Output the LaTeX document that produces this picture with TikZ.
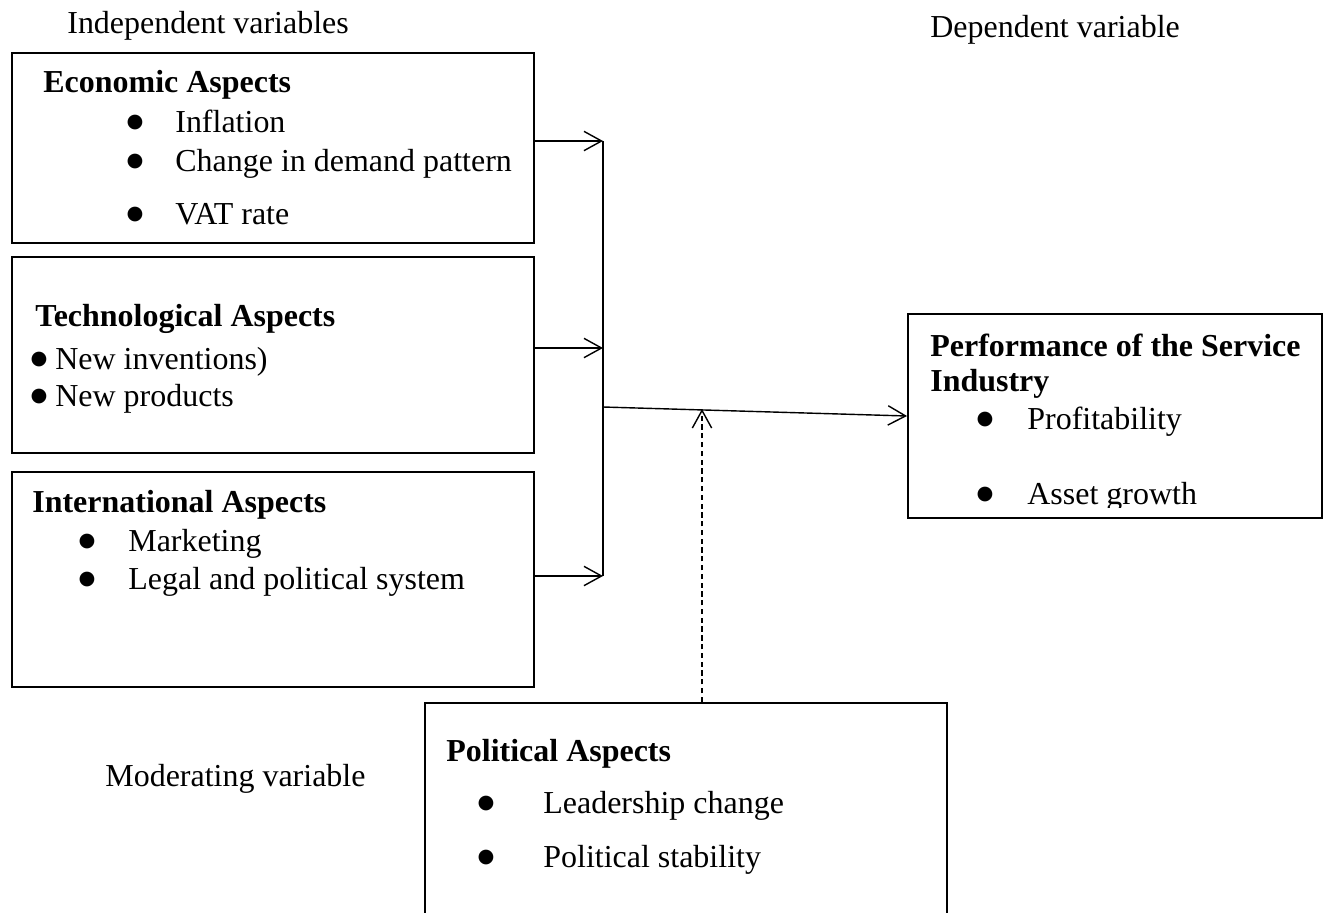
\documentclass[tikz,border=0pt]{standalone}
\usepackage{fontspec}
\setmainfont{Liberation Serif}
\newfontfamily\symfont{DejaVu Sans}
\usetikzlibrary{arrows.meta,fit,positioning}

\newcommand{\bigbul}{\raisebox{2.5pt}{\symfont\fontsize{11}{11}\selectfont ●}}

\begin{document}
\begin{tikzpicture}[
  x=0.02cm, y=-0.02cm,
  font=\fontsize{18.2}{22}\selectfont,
  box/.style={draw, line width=1.1pt, inner sep=0pt},
  head/.style={anchor=base west, inner sep=0pt, font=\fontsize{18.2}{22}\selectfont\bfseries},
  item/.style={anchor=base west, inner sep=0pt},
  bul/.style={anchor=base, inner sep=0pt},
  link/.style={line width=0.8pt, -{Straight Barb[length=10pt,width=11pt]}}
]
\useasboundingbox (0,0) rectangle (1329,913);
\clip (0,0) rectangle (1329,913);

% variable labels
\node[item] (indep) at (67,33) {Independent variables};
\node[item] (dep) at (930,37) {Dependent variable};
\node[item] (moder) at (105,786) {Moderating variable};

% boxes
\node[box, fit={(12,53) (534,243)}] (econ) {};
\node[box, fit={(12,257) (534,453)}] (tech) {};
\node[box, fit={(12,472) (534,687)}] (intl) {};
\node[box, fit={(908,314) (1322,518)}] (perf) {};
\node[box, fit={(425,703) (947,940)}] (pol) {};

% economic
\node[head] (econhead) at (43,92) {Economic Aspects};
\node[bul] (econb1) at (135,132) {\bigbul};
\node[item] (econ1) at (175,132) {Inflation};
\node[bul] (econb2) at (135,171) {\bigbul};
\node[item] (econ2) at (175,171) {Change in demand pattern};
\node[bul] (econb3) at (135,224) {\bigbul};
\node[item] (econ3) at (175,224) {VAT rate};

% technological
\node[head] (techhead) at (35,326) {Technological Aspects};
\node[bul] (techb1) at (39,369) {\bigbul};
\node[item] (tech1) at (55,369) {New inventions)};
\node[bul] (techb2) at (39,406) {\bigbul};
\node[item] (tech2) at (55,406) {New products};

% international
\node[head] (intlhead) at (32,512) {International Aspects};
\node[bul] (intlb1) at (87,551) {\bigbul};
\node[item] (intl1) at (128,551) {Marketing};
\node[bul] (intlb2) at (87,589) {\bigbul};
\node[item] (intl2) at (128,589) {Legal and political system};

% performance
\node[head] (perfhead) at (930,356) {Performance of the Service};
\node[head] (perfhead2) at (930,391) {Industry};
\node[bul] (perfb1) at (985,429) {\bigbul};
\node[item] (perf1) at (1027,429) {Profitability};
\begin{scope}
\clip (908,314) rectangle (1322,507);
\node[bul] (perfb2) at (985,504) {\bigbul};
\node[item] (perf2) at (1027,504) {Asset growth};
\end{scope}

% political
\node[head] (polhead) at (446,761) {Political Aspects};
\node[bul] (polb1) at (486,813) {\bigbul};
\node[item] (pol1) at (543,813) {Leadership change};
\node[bul] (polb2) at (486,867) {\bigbul};
\node[item] (pol2) at (543,867) {Political stability};

% connectors
\coordinate (bus1) at (603,141);
\coordinate (bus2) at (603,348);
\coordinate (bus3) at (603,576);
\coordinate (busout) at (603,407);
\coordinate (modtip) at (702,409);
\draw[line width=0.6pt] (bus1) -- (bus3);
\draw[link] (econ.east |- bus1) -- (bus1);
\draw[link] (tech.east |- bus2) -- (bus2);
\draw[link] (intl.east |- bus3) -- (bus3);
\draw[link] (busout) -- (perf.west);
\draw[link, dash pattern=on 3pt off 2pt] (pol.north -| modtip) -- (modtip);
\end{tikzpicture}
\end{document}
